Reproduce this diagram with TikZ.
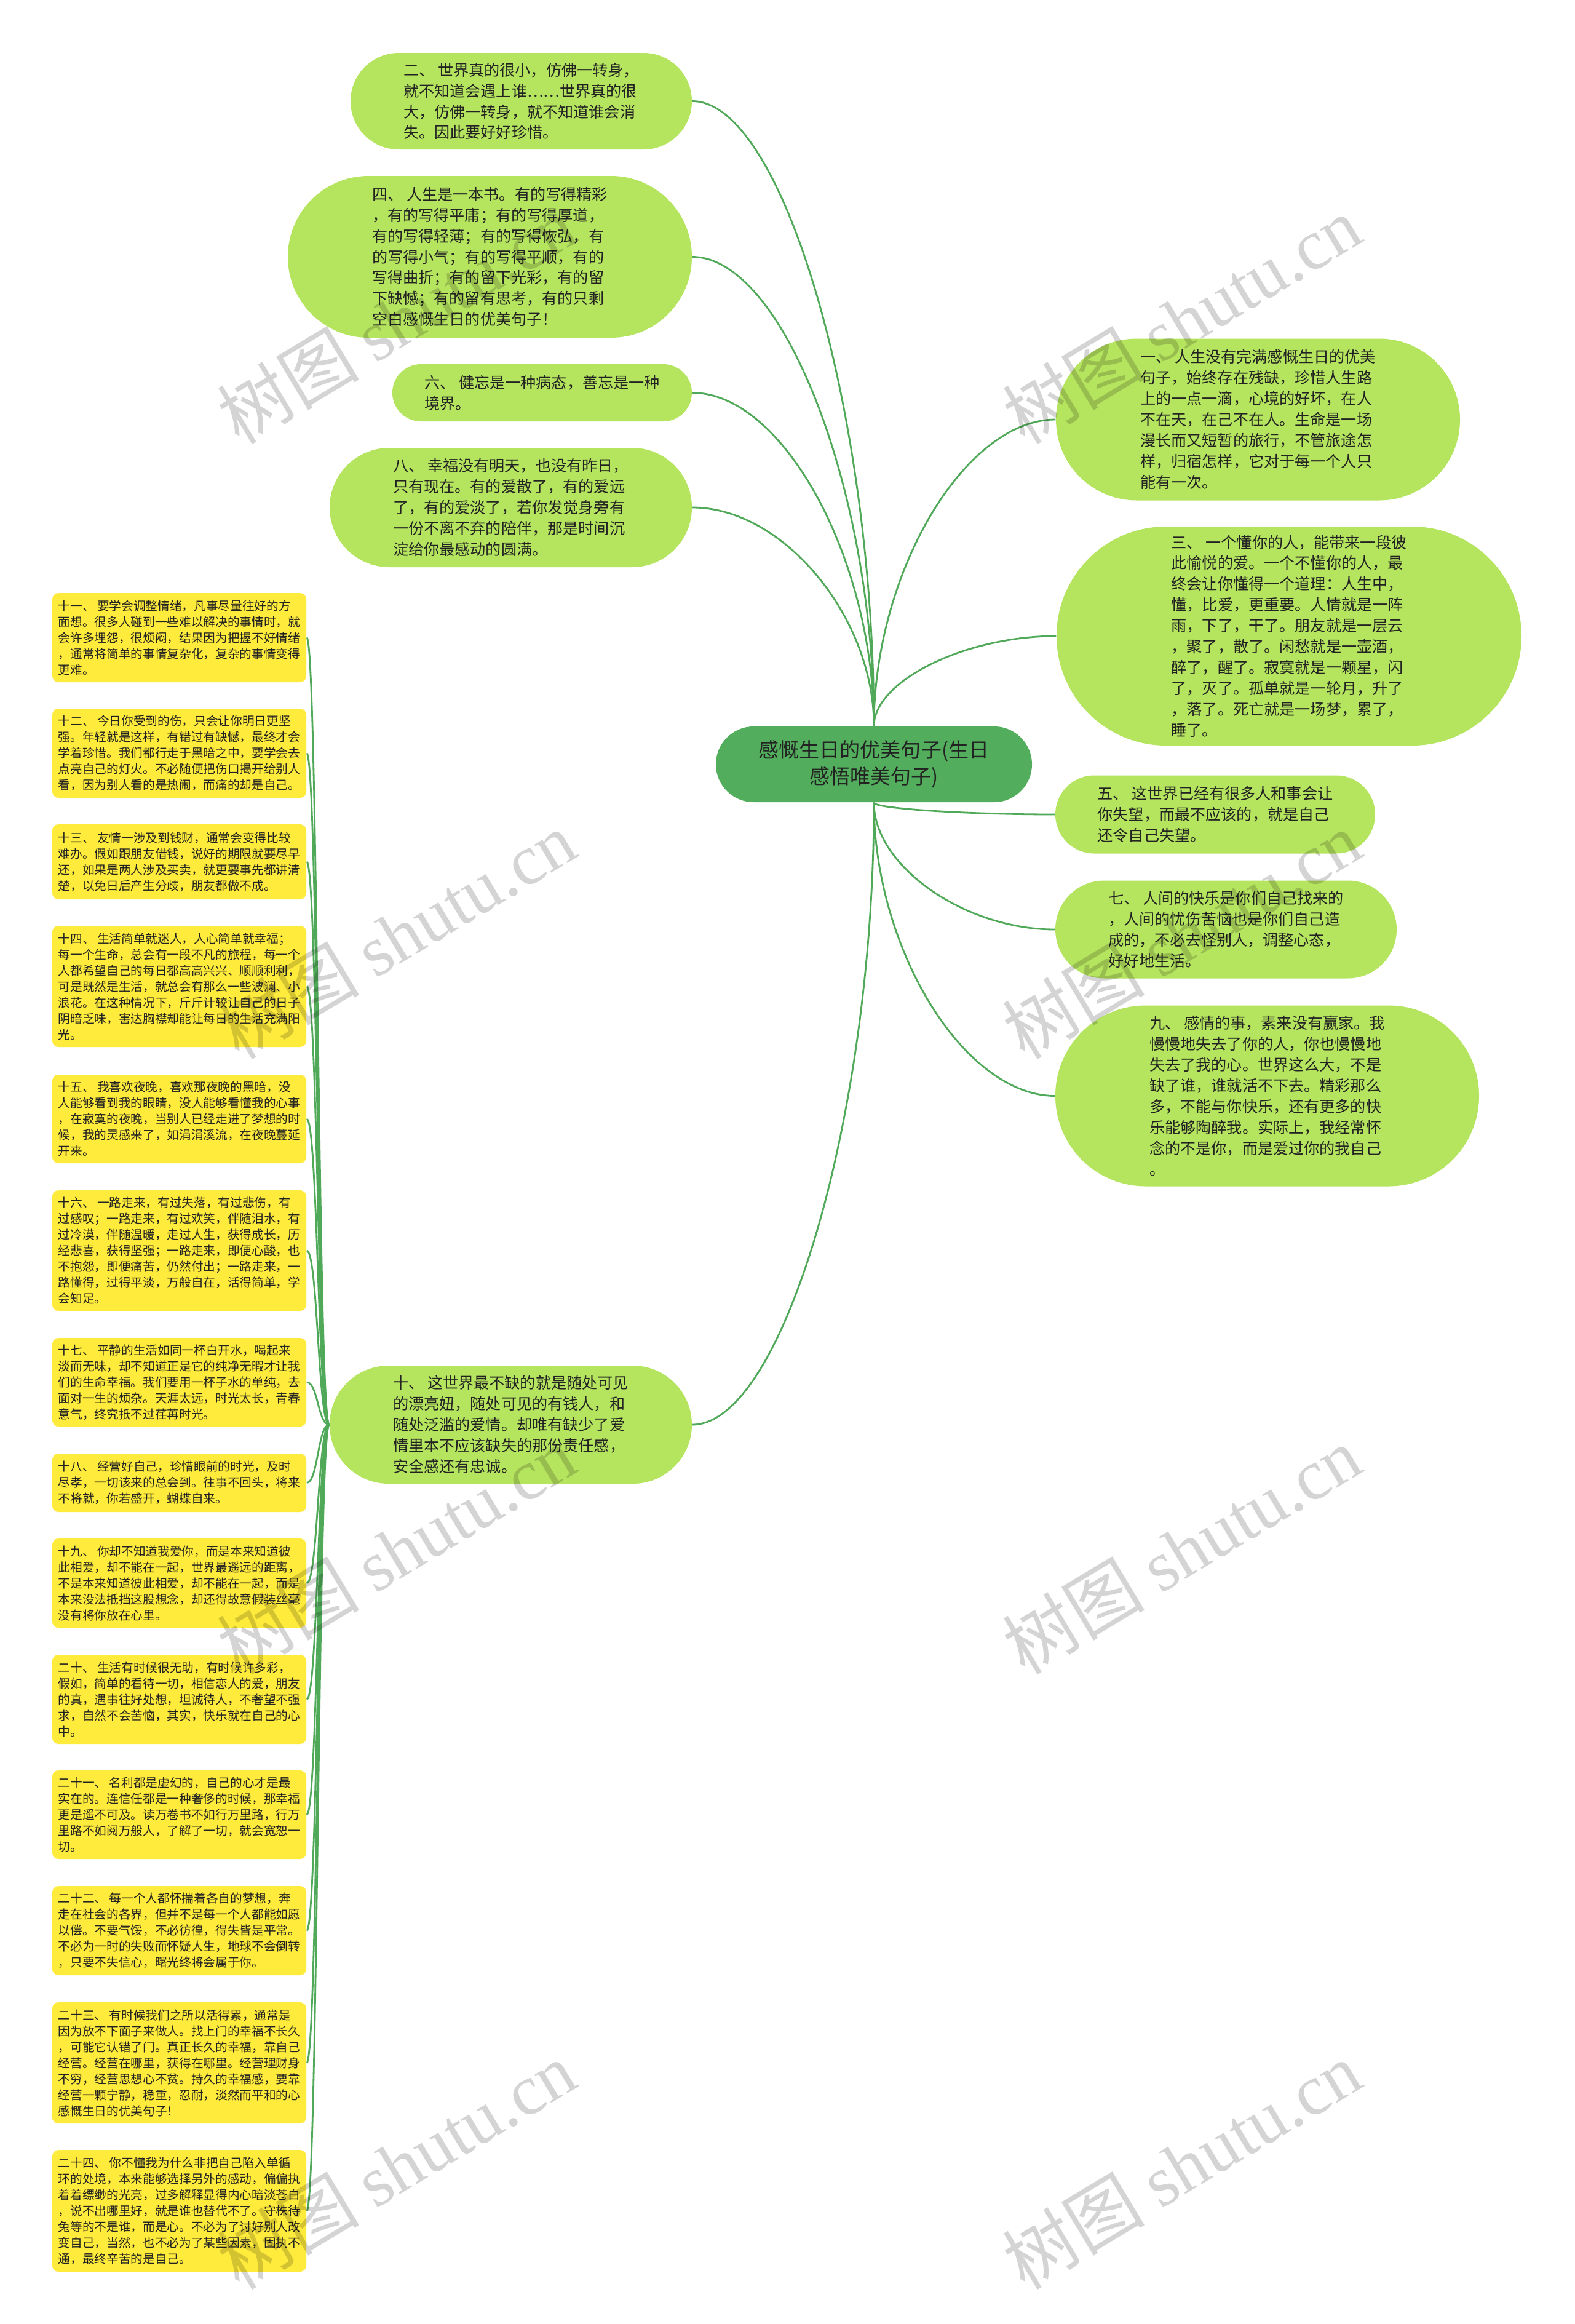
\documentclass[tikz,border=0pt]{standalone}
\usepackage{fontspec}
\setmainfont{Noto Sans CJK SC}
\newfontfamily\marklatin{Liberation Serif}
\usetikzlibrary{shapes.misc,backgrounds,calc}
\definecolor{rootgreen}{HTML}{52AE5C}
\definecolor{leafgreen}{HTML}{B5E45F}
\definecolor{noteyellow}{HTML}{FFEB3B}
\definecolor{linegreen}{HTML}{4FA958}
\definecolor{ink}{HTML}{222222}
\tikzset{
  rootnode/.style={rounded rectangle,fill=rootgreen,text=ink,align=center,inner sep=0pt,
    font=\fontsize{9.4pt}{12.2pt}\selectfont},
  leaf/.style={rounded rectangle,fill=leafgreen,text=ink,align=left,inner sep=0pt,
    font=\fontsize{7.15pt}{9.65pt}\selectfont},
  note/.style={rectangle,rounded corners=0.1cm,fill=noteyellow,text=ink,align=left,inner sep=0pt,
    minimum width=4.13cm,font=\fontsize{5.6pt}{7.4pt}\selectfont},
  % root -> topic: leaves vertically, enters horizontally
  branch/.style={draw=linegreen,line width=0.8pt,to path={let \p1=(\tikztostart),\p2=(\tikztotarget) in
    .. controls (\x1,{0.5*(\y1+\y2)}) and ({0.5*(\x1+\x2)},\y2) .. (\tikztotarget)}},
  % topic -> note: leaves and enters horizontally
  twig/.style={draw=linegreen,line width=0.8pt,to path={let \p1=(\tikztostart),\p2=(\tikztotarget) in
    .. controls ({0.5*(\x1+\x2)},\y1) and ({0.5*(\x1+\x2)},\y2) .. (\tikztotarget)}},
  watermark/.style={rotate=31,text=black,opacity=0.17,inner sep=0pt,font=\fontsize{33pt}{36pt}\selectfont}
}
\begin{document}
\begin{tikzpicture}
\useasboundingbox (0,0) rectangle (25.6,-37.78);

% centre
\node[rootnode,minimum width=5.14cm,minimum height=1.23cm] (root) at (14.21,-12.425) {感慨生日的优美句子(生日\\感悟唯美句子)};

% left topics
\node[leaf,minimum width=5.55cm,minimum height=1.57cm] (n2) at (8.475,-1.645) {二、 世界真的很小，仿佛一转身，\\就不知道会遇上谁……世界真的很\\大，仿佛一转身，就不知道谁会消\\失。因此要好好珍惜。};
\node[leaf,minimum width=6.57cm,minimum height=2.63cm] (n4) at (7.965,-4.175) {四、 人生是一本书。有的写得精彩\\，有的写得平庸；有的写得厚道，\\有的写得轻薄；有的写得恢弘，有\\的写得小气；有的写得平顺，有的\\写得曲折；有的留下光彩，有的留\\下缺憾；有的留有思考，有的只剩\\空白感慨生日的优美句子！};
\node[leaf,minimum width=4.87cm,minimum height=0.93cm] (n6) at (8.815,-6.385) {六、 健忘是一种病态，善忘是一种\\境界。};
\node[leaf,minimum width=5.89cm,minimum height=1.94cm] (n8) at (8.305,-8.25) {八、 幸福没有明天，也没有昨日，\\只有现在。有的爱散了，有的爱远\\了，有的爱淡了，若你发觉身旁有\\一份不离不弃的陪伴，那是时间沉\\淀给你最感动的圆满。};
\node[leaf,minimum width=5.89cm,minimum height=1.92cm] (n10) at (8.305,-23.16) {十、 这世界最不缺的就是随处可见\\的漂亮妞，随处可见的有钱人，和\\随处泛滥的爱情。却唯有缺少了爱\\情里本不应该缺失的那份责任感，\\安全感还有忠诚。};

% right topics
\node[leaf,minimum width=6.57cm,minimum height=2.63cm] (n1) at (20.455,-6.82) {一、 人生没有完满感慨生日的优美\\句子，始终存在残缺，珍惜人生路\\上的一点一滴，心境的好坏，在人\\不在天，在己不在人。生命是一场\\漫长而又短暂的旅行，不管旅途怎\\样，归宿怎样，它对于每一个人只\\能有一次。};
\node[leaf,minimum width=7.56cm,minimum height=3.56cm] (n3) at (20.96,-10.34) {三、 一个懂你的人，能带来一段彼\\此愉悦的爱。一个不懂你的人，最\\终会让你懂得一个道理：人生中，\\懂，比爱，更重要。人情就是一阵\\雨，下了，干了。朋友就是一层云\\，聚了，散了。闲愁就是一壶酒，\\醉了，醒了。寂寞就是一颗星，闪\\了，灭了。孤单就是一轮月，升了\\，落了。死亡就是一场梦，累了，\\睡了。};
\node[leaf,minimum width=5.20cm,minimum height=1.27cm] (n5) at (19.76,-13.24) {五、 这世界已经有很多人和事会让\\你失望，而最不应该的，就是自己\\还令自己失望。};
\node[leaf,minimum width=5.55cm,minimum height=1.59cm] (n7) at (19.935,-15.11) {七、 人间的快乐是你们自己找来的\\，人间的忧伤苦恼也是你们自己造\\成的，不必去怪别人，调整心态，\\好好地生活。};
\node[leaf,minimum width=6.89cm,minimum height=2.94cm] (n9) at (20.605,-17.815) {九、 感情的事，素来没有赢家。我\\慢慢地失去了你的人，你也慢慢地\\失去了我的心。世界这么大，不是\\缺了谁，谁就活不下去。精彩那么\\多，不能与你快乐，还有更多的快\\乐能够陶醉我。实际上，我经常怀\\念的不是你，而是爱过你的我自己\\。};

% notes under topic ten
\node[note,minimum height=1.45cm] (n11) at (2.915,-10.365) {十一、 要学会调整情绪，凡事尽量往好的方\\面想。很多人碰到一些难以解决的事情时，就\\会许多埋怨，很烦闷，结果因为把握不好情绪\\，通常将简单的事情复杂化，复杂的事情变得\\更难。};
\node[note,minimum height=1.45cm] (n12) at (2.915,-12.245) {十二、 今日你受到的伤，只会让你明日更坚\\强。年轻就是这样，有错过有缺憾，最终才会\\学着珍惜。我们都行走于黑暗之中，要学会去\\点亮自己的灯火。不必随便把伤口揭开给别人\\看，因为别人看的是热闹，而痛的却是自己。};
\node[note,minimum height=1.22cm] (n13) at (2.915,-14.01) {十三、 友情一涉及到钱财，通常会变得比较\\难办。假如跟朋友借钱，说好的期限就要尽早\\还，如果是两人涉及买卖，就更要事先都讲清\\楚，以免日后产生分歧，朋友都做不成。};
\node[note,minimum height=1.97cm] (n14) at (2.915,-16.035) {十四、 生活简单就迷人，人心简单就幸福；\\每一个生命，总会有一段不凡的旅程，每一个\\人都希望自己的每日都高高兴兴、顺顺利利，\\可是既然是生活，就总会有那么一些波澜、小\\浪花。在这种情况下，斤斤计较让自己的日子\\阴暗乏味，害达胸襟却能让每日的生活充满阳\\光。};
\node[note,minimum height=1.44cm] (n15) at (2.915,-18.19) {十五、 我喜欢夜晚，喜欢那夜晚的黑暗，没\\人能够看到我的眼睛，没人能够看懂我的心事\\，在寂寞的夜晚，当别人已经走进了梦想的时\\候，我的灵感来了，如涓涓溪流，在夜晚蔓延\\开来。};
\node[note,minimum height=1.96cm] (n16) at (2.915,-20.33) {十六、 一路走来，有过失落，有过悲伤，有\\过感叹；一路走来，有过欢笑，伴随泪水，有\\过冷漠，伴随温暖，走过人生，获得成长，历\\经悲喜，获得坚强；一路走来，即便心酸，也\\不抱怨，即便痛苦，仍然付出；一路走来，一\\路懂得，过得平淡，万般自在，活得简单，学\\会知足。};
\node[note,minimum height=1.44cm] (n17) at (2.915,-22.47) {十七、 平静的生活如同一杯白开水，喝起来\\淡而无味，却不知道正是它的纯净无暇才让我\\们的生命幸福。我们要用一杯子水的单纯，去\\面对一生的烦杂。天涯太远，时光太长，青春\\意气，终究抵不过荏苒时光。};
\node[note,minimum height=0.95cm] (n18) at (2.915,-24.105) {十八、 经营好自己，珍惜眼前的时光，及时\\尽孝，一切该来的总会到。往事不回头，将来\\不将就，你若盛开，蝴蝶自来。};
\node[note,minimum height=1.45cm] (n19) at (2.915,-25.735) {十九、 你却不知道我爱你，而是本来知道彼\\此相爱，却不能在一起，世界最遥远的距离，\\不是本来知道彼此相爱，却不能在一起，而是\\本来没法抵挡这股想念，却还得故意假装丝毫\\没有将你放在心里。};
\node[note,minimum height=1.45cm] (n20) at (2.915,-27.625) {二十、 生活有时候很无助，有时候许多彩，\\假如，简单的看待一切，相信恋人的爱，朋友\\的真，遇事往好处想，坦诚待人，不奢望不强\\求，自然不会苦恼，其实，快乐就在自己的心\\中。};
\node[note,minimum height=1.44cm] (n21) at (2.915,-29.50) {二十一、 名利都是虚幻的，自己的心才是最\\实在的。连信任都是一种奢侈的时候，那幸福\\更是遥不可及。读万卷书不如行万里路，行万\\里路不如阅万般人，了解了一切，就会宽恕一\\切。};
\node[note,minimum height=1.45cm] (n22) at (2.915,-31.385) {二十二、 每一个人都怀揣着各自的梦想，奔\\走在社会的各界，但并不是每一个人都能如愿\\以偿。不要气馁，不必彷徨，得失皆是平常。\\不必为一时的失败而怀疑人生，地球不会倒转\\，只要不失信心，曙光终将会属于你。};
\node[note,minimum height=1.97cm] (n23) at (2.915,-33.535) {二十三、 有时候我们之所以活得累，通常是\\因为放不下面子来做人。找上门的幸福不长久\\，可能它认错了门。真正长久的幸福，靠自己\\经营。经营在哪里，获得在哪里。经营理财身\\不穷，经营思想心不贫。持久的幸福感，要靠\\经营一颗宁静，稳重，忍耐，淡然而平和的心\\感慨生日的优美句子！};
\node[note,minimum height=1.98cm] (n24) at (2.915,-35.94) {二十四、 你不懂我为什么非把自己陷入单循\\环的处境，本来能够选择另外的感动，偏偏执\\着着缥缈的光亮，过多解释显得内心暗淡苍白\\，说不出哪里好，就是谁也替代不了。守株待\\兔等的不是谁，而是心。不必为了讨好别人改\\变自己，当然，也不必为了某些因素，固执不\\通，最终辛苦的是自己。};

% connectors (under the nodes)
\begin{scope}[on background layer]
\fill[white] (0,0) rectangle (25.6,-37.78);
\foreach \t in {n2,n4,n6,n8}
  \draw[branch] (root.north) to (\t.east);
\foreach \t in {n1,n3}
  \draw[branch] (root.north) to (\t.west);
\foreach \t in {n5,n7,n9}
  \draw[branch] (root.south) to (\t.west);
\draw[branch] (root.south) to (n10.east);
\foreach \k in {11,...,24}
  \draw[twig] (n10.west) to (n\k.east);
\end{scope}

% watermark
\foreach \x/\y [count=\i] in {6.44/-5.2,19.21/-5.2,6.44/-15.2,19.21/-15.2,6.44/-25.2,19.21/-25.2,6.44/-35.2,19.21/-35.2}
  \node[watermark] (wm\i) at (\x,\y) {树图 {\marklatin shutu.cn}};
\end{tikzpicture}
\end{document}
